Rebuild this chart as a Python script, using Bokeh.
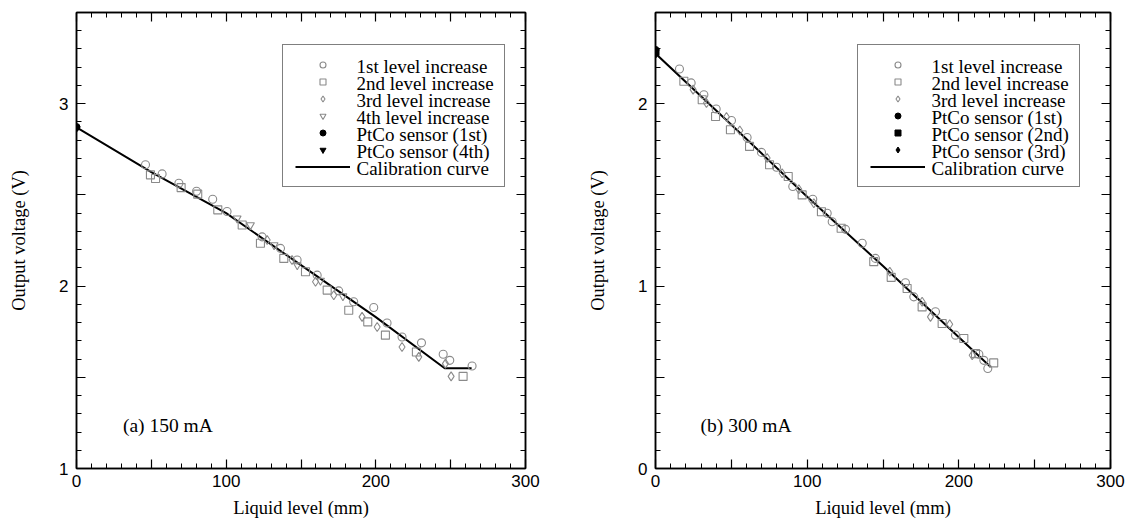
from bokeh.plotting import figure
from bokeh.models import (LinearAxis, SingleIntervalTicker, Legend, LegendItem,
                          Label, CustomJSTickFormatter, CustomLabelingPolicy, Range1d)
from bokeh.layouts import row
from bokeh.embed import file_html
from bokeh.resources import INLINE

# ---------------- data: (a) 150 mA ----------------
a_lvl1_x = [46.1, 57.2, 68.4, 80.2, 91.0, 100.6, 124.0, 136.3, 147.4, 160.8, 175.2, 185.2,
            198.6, 207.5, 217.5, 230.5, 245.0, 249.4, 264.3]
a_lvl1_y = [2.665, 2.615, 2.564, 2.520, 2.476, 2.409, 2.270, 2.207, 2.143, 2.060, 1.974, 1.914,
            1.883, 1.798, 1.721, 1.689, 1.626, 1.593, 1.562]
a_lvl2_x = [49.4, 52.8, 69.9, 81.0, 94.4, 110.7, 122.9, 138.5, 153.0, 167.5, 181.9, 194.6,
            206.4, 227.1, 258.3]
a_lvl2_y = [2.610, 2.590, 2.540, 2.504, 2.418, 2.335, 2.235, 2.152, 2.079, 1.978, 1.868, 1.804,
            1.731, 1.639, 1.505]
a_lvl3_x = [127.4, 144.0, 159.7, 171.9, 190.8, 200.9, 217.5, 228.7, 246.5, 250.3]
a_lvl3_y = [2.253, 2.143, 2.024, 1.950, 1.831, 1.776, 1.666, 1.612, 1.575, 1.505]
a_lvl4_x = [107.3, 116.2, 132.0, 147.5, 163.0, 178.0]
a_lvl4_y = [2.372, 2.335, 2.225, 2.115, 2.030, 1.945]
a_ptco1_x = [0.0]
a_ptco1_y = [2.872]
a_ptco4_x = [0.0]
a_ptco4_y = [2.865]
a_cal_x = [0, 50, 100, 150, 200, 246, 264]
a_cal_y = [2.870, 2.625, 2.400, 2.115, 1.830, 1.550, 1.550]
a_legend_labels = ["1st level increase", "2nd level increase", "3rd level increase",
                   "4th level increase", "PtCo sensor (1st)", "PtCo sensor (4th)",
                   "Calibration curve"]

# ---------------- data: (b) 300 mA ----------------
b_lvl1_x = [15.8, 23.5, 31.9, 40.0, 50.1, 60.4, 69.9, 79.8, 90.5, 103.7, 113.2, 116.5, 125.3,
            136.3, 145.0, 164.8, 170.3, 184.6, 197.8, 213.2, 216.5, 219.1]
b_lvl1_y = [2.190, 2.114, 2.049, 1.971, 1.908, 1.815, 1.733, 1.652, 1.546, 1.476, 1.399, 1.353,
            1.311, 1.235, 1.152, 1.018, 0.941, 0.859, 0.731, 0.626, 0.593, 0.548]
b_lvl2_x = [18.7, 30.8, 39.6, 49.4, 62.0, 75.2, 87.5, 96.7, 109.4, 122.4, 143.9, 155.4, 165.9,
            175.8, 189.0, 203.3, 211.0, 223.0]
b_lvl2_y = [2.123, 2.022, 1.930, 1.857, 1.766, 1.665, 1.601, 1.500, 1.408, 1.317, 1.134, 1.048,
            0.987, 0.886, 0.795, 0.713, 0.630, 0.579]
b_lvl3_x = [24.8, 33.6, 46.8, 55.6, 73.6, 83.5, 94.5, 104.4, 154.5, 175.8, 181.3, 194.0, 208.8]
b_lvl3_y = [2.077, 2.004, 1.927, 1.853, 1.702, 1.619, 1.531, 1.454, 1.079, 0.914, 0.831, 0.791,
            0.621]
b_ptco1_x = [0.0]
b_ptco1_y = [2.295]
b_ptco2_x = [0.0]
b_ptco2_y = [2.283]
b_ptco3_x = [0.0]
b_ptco3_y = [2.270]
b_cal_x = [0, 50, 100, 150, 200, 221]
b_cal_y = [2.275, 1.885, 1.490, 1.110, 0.720, 0.557]
b_legend_labels = ["1st level increase", "2nd level increase", "3rd level increase",
                   "PtCo sensor (1st)", "PtCo sensor (2nd)", "PtCo sensor (3rd)",
                   "Calibration curve"]

GRAY = "#8a8a8a"
SERIF = "Liberation Serif"
SANS = "Liberation Sans"

xfmt_code = "return (Math.abs(tick % 100) < 1e-6) ? tick.toFixed(0) : '';"
yfmt_code = "return (Math.abs(tick - Math.round(tick)) < 1e-6) ? Math.round(tick).toFixed(0) : '';"
EVEN_ONLY = "for (const i of indices) { if (i % 2 == 0) yield i }"
NONE_LABELS = "for (const i of indices) { if (i < 0) yield i }"

FRAME_H = 456
# legend geometry (pixels)
LG_PAD = 12
LG_GLYPH_W = 55
LG_ROW_H = 15
LG_SPACING = 2
LG_STANDOFF = 7
LG_LABEL_W = 135


def style_axis(ax, labels=True):
    ax.axis_line_color = "black"
    ax.axis_line_width = 1.5
    ax.major_tick_line_color = "black"
    ax.major_tick_line_width = 1.2
    ax.minor_tick_line_color = "black"
    ax.minor_tick_line_width = 1.0
    ax.major_tick_in = 9
    ax.major_tick_out = 0
    ax.minor_tick_in = 5
    ax.minor_tick_out = 0
    if labels:
        ax.major_label_text_font = SANS
        ax.major_label_text_font_size = "17px"
        ax.major_label_text_color = "black"
        ax.axis_label_text_font = SERIF
        ax.axis_label_text_font_size = "18.5px"
        ax.axis_label_text_font_style = "normal"
        ax.axis_label_text_color = "black"
        ax.major_label_policy = CustomLabelingPolicy(code=EVEN_ONLY)
    else:
        ax.major_label_text_font_size = "1px"
        ax.major_label_standoff = 0
        ax.major_label_policy = CustomLabelingPolicy(code=NONE_LABELS)


def make_panel(ymin, ymax, left_border, right_border, frame_w):
    p = figure(width=left_border + frame_w + right_border, height=12 + FRAME_H + 54,
               x_range=Range1d(0, 300), y_range=Range1d(ymin, ymax),
               output_backend="svg", toolbar_location=None,
               min_border_left=left_border, min_border_right=right_border,
               min_border_top=12, min_border_bottom=54)
    p.grid.visible = False
    p.outline_line_color = "black"
    p.outline_line_width = 1.5
    p.background_fill_color = "white"
    p.border_fill_color = "white"

    p.xaxis.ticker = SingleIntervalTicker(interval=50, num_minor_ticks=5)
    p.yaxis.ticker = SingleIntervalTicker(interval=0.5, num_minor_ticks=5)
    p.xaxis.formatter = CustomJSTickFormatter(code=xfmt_code)
    p.yaxis.formatter = CustomJSTickFormatter(code=yfmt_code)
    p.xaxis.axis_label = "Liquid level (mm)"
    p.yaxis.axis_label = "Output voltage (V)"
    for ax in p.xaxis + p.yaxis:
        style_axis(ax)
    p.xaxis.major_label_standoff = 6
    p.xaxis.axis_label_standoff = 8
    p.yaxis.major_label_standoff = 8
    p.yaxis.axis_label_standoff = 27

    top = LinearAxis(ticker=SingleIntervalTicker(interval=50, num_minor_ticks=5))
    right = LinearAxis(ticker=SingleIntervalTicker(interval=0.5, num_minor_ticks=5))
    style_axis(top, labels=False)
    style_axis(right, labels=False)
    p.add_layout(top, "above")
    p.add_layout(right, "right")
    return p


def open_marker(p, x, y, marker, size):
    return p.scatter(x, y, marker=marker, size=size, line_color=GRAY,
                     line_width=1.1, fill_color=None)


def add_legend(p, renderers, labels, left, bottom, frame_w, ymin, ymax):
    # glyph column drawn by a Legend; its texts are placed as labels beside it
    items = [LegendItem(label=" ", renderers=[r]) for r in renderers]
    lg = Legend(items=items, location=(left, bottom))
    lg.border_line_color = "black"
    lg.border_line_width = 1.5
    lg.background_fill_color = "white"
    lg.background_fill_alpha = 0.0
    lg.label_text_font_size = "1px"
    lg.glyph_width = LG_GLYPH_W
    lg.glyph_height = LG_ROW_H
    lg.label_height = LG_ROW_H
    lg.label_width = LG_LABEL_W
    lg.label_standoff = LG_STANDOFF
    lg.spacing = LG_SPACING
    lg.padding = LG_PAD
    lg.margin = 0
    p.add_layout(lg)
    n = len(labels)
    box_h = 2 * LG_PAD + n * LG_ROW_H + (n - 1) * LG_SPACING
    top = bottom + box_h
    tx_px = left + LG_PAD + LG_GLYPH_W + LG_STANDOFF
    xs = 300.0 / frame_w
    ys = (ymax - ymin) / FRAME_H
    for i, txt in enumerate(labels):
        ty_px = top - LG_PAD - LG_ROW_H / 2 - i * (LG_ROW_H + LG_SPACING)
        p.add_layout(Label(x=tx_px * xs, y=ymin + ty_px * ys, text=txt,
                           text_font=SERIF, text_font_size="19px", level="overlay",
                           text_baseline="middle", text_color="black"))


# ---------------- panel (a) ----------------
p1 = make_panel(1.0, 3.5, 76, 40, 449)
c1 = p1.line(a_cal_x, a_cal_y, line_color="black", line_width=2)
r1 = open_marker(p1, a_lvl1_x, a_lvl1_y, "circle", 8)
r2 = open_marker(p1, a_lvl2_x, a_lvl2_y, "square", 8)
r3 = open_marker(p1, a_lvl3_x, a_lvl3_y, "diamond", 9)
r4 = open_marker(p1, a_lvl4_x, a_lvl4_y, "inverted_triangle", 8)
f1 = p1.scatter(a_ptco1_x, a_ptco1_y, marker="circle", size=7, color="black")
f4 = p1.scatter(a_ptco4_x, a_ptco4_y, marker="inverted_triangle", size=7, color="black")
add_legend(p1, [r1, r2, r3, r4, f1, f4, c1], a_legend_labels, 206, 281, 449, 1.0, 3.5)
p1.add_layout(Label(x=31, y=1.236, text="(a) 150 mA", text_font=SERIF,
                    text_font_size="19.5px", text_baseline="middle", text_color="black"))

# ---------------- panel (b) ----------------
p2 = make_panel(0.0, 2.5, 90, 20, 455)
c2 = p2.line(b_cal_x, b_cal_y, line_color="black", line_width=2)
s1 = open_marker(p2, b_lvl1_x, b_lvl1_y, "circle", 8)
s2 = open_marker(p2, b_lvl2_x, b_lvl2_y, "square", 8)
s3 = open_marker(p2, b_lvl3_x, b_lvl3_y, "diamond", 9)
g1 = p2.scatter(b_ptco1_x, b_ptco1_y, marker="circle", size=7, color="black")
g2 = p2.scatter(b_ptco2_x, b_ptco2_y, marker="square", size=7, color="black")
g3 = p2.scatter(b_ptco3_x, b_ptco3_y, marker="diamond", size=8, color="black")
add_legend(p2, [s1, s2, s3, g1, g2, g3, c2], b_legend_labels, 202, 281, 455, 0.0, 2.5)
p2.add_layout(Label(x=29.7, y=0.236, text="(b) 300 mA", text_font=SERIF,
                    text_font_size="19.5px", text_baseline="middle", text_color="black"))

layout = row(p1, p2)
open("out.html", "w").write(file_html(layout, INLINE))
